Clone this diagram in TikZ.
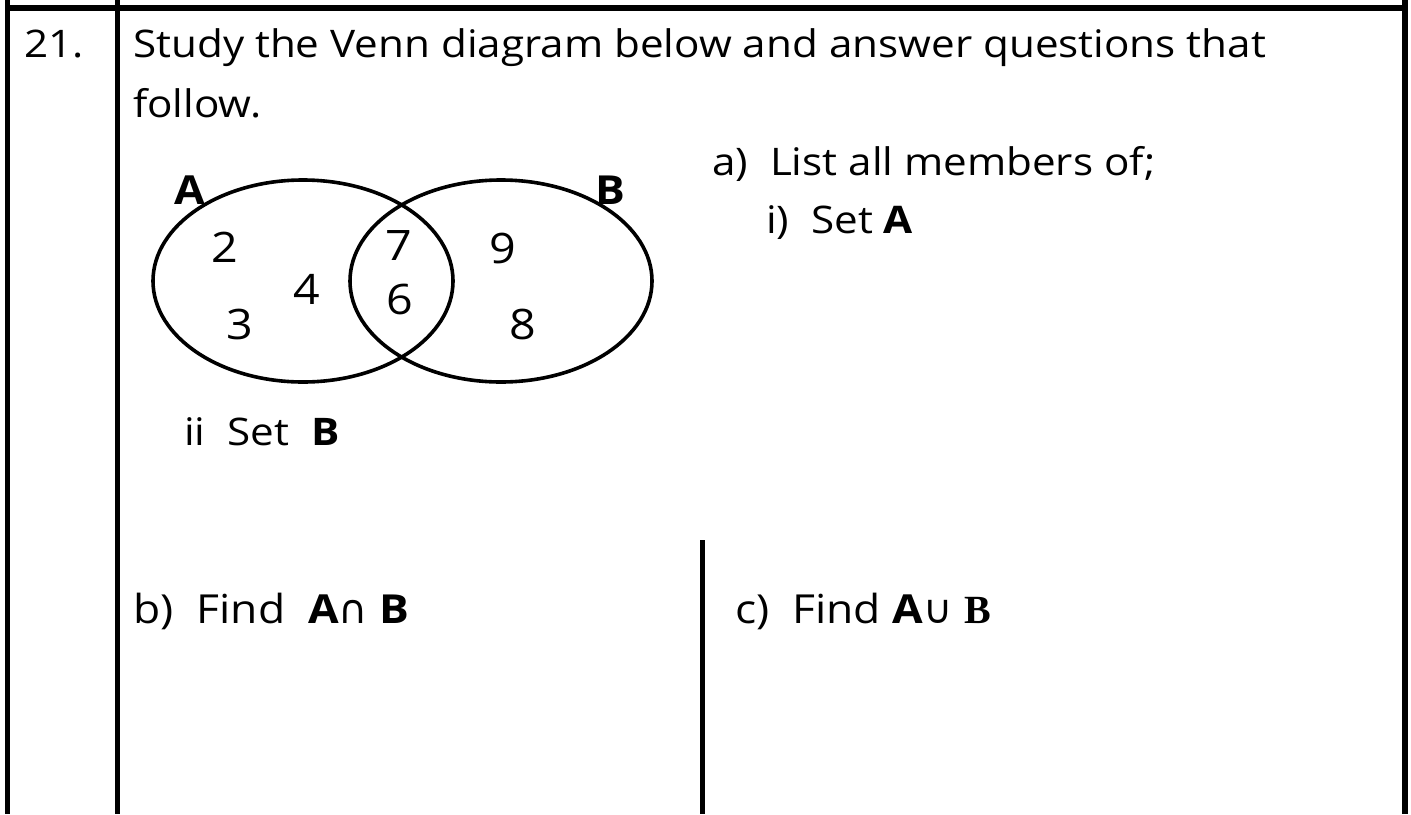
\documentclass[tikz,border=0pt]{standalone}
\usepackage{fontspec}
\setmainfont{Open Sans}[FakeStretch=1.11]
\newfontfamily\serifb{Liberation Serif}
\newfontfamily\symf{DejaVu Sans}
\begin{document}
\begin{tikzpicture}[x=1pt,y=-1pt,
  rule/.style={line width=5.5pt,line cap=butt},
  venn/.style={line width=3.6pt},
  txt/.style={anchor=base west,inner sep=0pt,font=\fontsize{38}{40}\selectfont},
  bigtxt/.style={anchor=base west,inner sep=0pt,font=\fontsize{40}{44}\selectfont},
  num/.style={anchor=center,inner sep=0pt,font=\fontsize{42}{44}\selectfont},
  lab/.style={anchor=center,inner sep=0pt,font=\fontsize{40}{44}\selectfont\bfseries}]
\useasboundingbox (0,0) rectangle (1411,814);
% table rules
\coordinate (tl) at (5,8);
\coordinate (tr) at (1408,8);
\draw[rule] (tl) -- (tr);
\coordinate (l0) at (7.5,0); \coordinate (l1) at (7.5,814);
\draw[rule] (l0) -- (l1);
\coordinate (c0) at (117.5,0); \coordinate (c1) at (117.5,814);
\draw[rule] (c0) -- (c1);
\coordinate (r0) at (1405,0); \coordinate (r1) at (1405,814);
\draw[rule] (r0) -- (r1);
\coordinate (m0) at (702.5,540); \coordinate (m1) at (702.5,814);
\draw[rule] (m0) -- (m1);
% texts
\node[txt] (q) at (24,57) {21.};
\node[txt] (t1) at (133,57) {Study the Venn diagram below and answer questions that};
\node[txt] (t2) at (133,117) {follow.};
\node[txt] (a) at (712,175) {a)\ \ List all members of;};
\node[txt] (ai) at (766,233) {i)\ \ Set \textbf{A}};
\node[txt] (aii) at (184,445) {ii\ \ Set\ \ \textbf{B}};
\node[bigtxt] (b) at (133,623) {b)\ \ Find\ \ \textbf{A}{\symf ∩} \textbf{B}};
\node[bigtxt] (c) at (735,623) {c)\ \ Find \textbf{A}{\symf ∪} {\serifb\bfseries B}};
% Venn
\draw[venn] (303,281) ellipse [x radius=150, y radius=101];
\draw[venn] (501,281) ellipse [x radius=151, y radius=101];
\node[lab] (la) at (190,190) {A};
\node[lab] (lb) at (610,190) {B};
\node[num] (n2) at (225,247) {2};
\node[num] (n4) at (307,289) {4};
\node[num] (n3) at (240,324) {3};
\node[num] (n7) at (399,246) {7};
\node[num] (n6) at (400,299) {6};
\node[num] (n9) at (503,248) {9};
\node[num] (n8) at (523,324) {8};
\end{tikzpicture}
\end{document}
